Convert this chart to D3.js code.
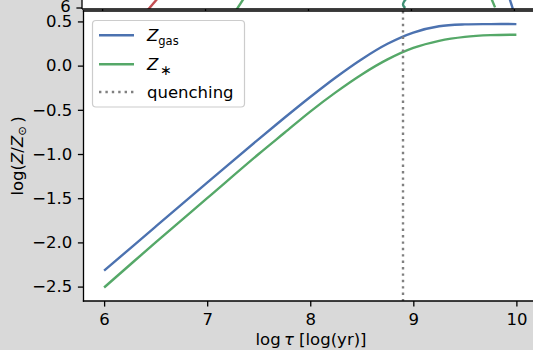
<!DOCTYPE html>
<html>
<head>
<meta charset="utf-8">
<script src="https://cdn.jsdelivr.net/npm/d3@7"></script>
<style>
  html, body { margin: 0; padding: 0; background: #d9d9d9; overflow: hidden; }
  svg { display: block; font-family: "DejaVu Sans", sans-serif; }
</style>
</head>
<body>
<div id="chart"></div>
<script>
// log tau grid and the two metallicity tracks
const logTau = [6.0, 6.5, 7.0, 7.5, 7.75, 8.0, 8.25, 8.5, 8.75, 9.0, 9.25, 9.5, 9.75, 10.0];
const zGas   = [-2.32, -1.821, -1.324, -0.831, -0.590, -0.355, -0.131, 0.073, 0.247, 0.374, 0.445, 0.467, 0.47, 0.47];
const zStar  = [-2.51, -2.00, -1.50, -1.00, -0.76, -0.52, -0.30, -0.10, 0.07, 0.20, 0.28, 0.325, 0.345, 0.35];
const tauQuench = 8.9;

const xTicks = [6, 7, 8, 9, 10];
const yTicks = [0.5, 0.0, -0.5, -1.0, -1.5, -2.0, -2.5];

// bits of the panel above that peek into the picture
const upperTicks = [6];
const upperRed   = [[6.44, 5.94], [6.53, 6.30]];
const upperGreen = [[7.30, 5.94], [7.368, 6.30]];
const upperTeal  = [[8.945, 6.29], [8.926, 6.20], [8.918, 6.12], [8.926, 6.05], [8.94, 6.00]];
const upperGreen2 = [[9.778, 6.30], [9.812, 6.02]];
const upperBlue  = [[9.954, 6.30], [9.985, 5.97]];

class MetalChart {
  constructor(sel) {
    this.width = 533;
    this.height = 350;
    this.svg = d3.select(sel).append("svg")
      .attr("width", this.width)
      .attr("height", this.height);

    // lower (main) axes box
    this.box = { left: 83.5, top: 11, right: 537, bottom: 301 };
    this.x = d3.scaleLinear().domain([5.8, 10.2]).range([this.box.left, this.box.right]);
    this.y = d3.scaleLinear().domain([-2.663, 0.618]).range([this.box.bottom, this.box.top]);

    // upper axes, only its bottom strip is visible
    this.xu = d3.scaleLinear().domain([5.8, 10.2]).range([82, 535]);
    this.yu = d3.scaleLinear().domain([5.967, 6.267]).range([9, 0]);

    this.colors = { gas: "#4C72B0", star: "#55A868", red: "#C44E52", teal: "#3f8f74", quench: "#808080" };
    this.fs = 16.5;
    this.tick = 5.6;
    this.draw();
  }

  draw() {
    this.drawUpper();
    this.drawLower();
    this.drawLegend();
  }

  drawUpper() {
    const g = this.svg.append("g");
    g.append("clipPath").attr("id", "clipUp")
      .append("rect").attr("x", 82).attr("y", -20).attr("width", 460).attr("height", 29);
    g.append("rect").attr("x", 82).attr("y", -20).attr("width", 460).attr("height", 29).attr("fill", "#fff");

    const line = d3.line().x(d => this.xu(d[0])).y(d => this.yu(d[1]));
    const frags = [
      [upperRed, this.colors.red, d3.curveLinear],
      [upperGreen, this.colors.star, d3.curveLinear],
      [upperTeal, this.colors.teal, d3.curveCatmullRom],
      [upperGreen2, this.colors.star, d3.curveLinear],
      [upperBlue, this.colors.gas, d3.curveLinear]
    ];
    const cg = g.append("g").attr("clip-path", "url(#clipUp)");
    frags.forEach(([pts, col, curve]) => {
      cg.append("path").attr("d", line.curve(curve)(pts))
        .attr("fill", "none").attr("stroke", col).attr("stroke-width", 2.4);
    });

    // spines + ticks
    g.append("line").attr("x1", 82).attr("x2", 540).attr("y1", 9).attr("y2", 9)
      .attr("stroke", "#000").attr("stroke-width", 1.3);
    g.append("line").attr("x1", 82).attr("x2", 82).attr("y1", -5).attr("y2", 9)
      .attr("stroke", "#000").attr("stroke-width", 1.3);
    g.selectAll(".xt").data(xTicks).join("line")
      .attr("x1", d => this.xu(d)).attr("x2", d => this.xu(d))
      .attr("y1", 9).attr("y2", 9 + this.tick)
      .attr("stroke", "#000").attr("stroke-width", 1.3);
    upperTicks.forEach(v => {
      g.append("line").attr("x1", 82 - this.tick).attr("x2", 82)
        .attr("y1", this.yu(v)).attr("y2", this.yu(v))
        .attr("stroke", "#000").attr("stroke-width", 1.3);
      g.append("text").attr("x", 82 - 2 * this.tick).attr("y", this.yu(v))
        .attr("dy", "0.22em").attr("text-anchor", "end")
        .attr("font-size", this.fs).attr("fill", "#000").text(v);
    });
  }

  drawLower() {
    const b = this.box;
    const g = this.svg.append("g");
    g.append("rect").attr("x", b.left).attr("y", b.top)
      .attr("width", b.right - b.left).attr("height", b.bottom - b.top).attr("fill", "#fff");

    g.append("clipPath").attr("id", "clipLo")
      .append("rect").attr("x", b.left).attr("y", b.top)
      .attr("width", b.right - b.left).attr("height", b.bottom - b.top);

    const plot = g.append("g").attr("clip-path", "url(#clipLo)");
    const line = d3.line().curve(d3.curveCatmullRom)
      .x((d, i) => this.x(logTau[i])).y(d => this.y(d));

    plot.append("path").attr("d", line(zGas))
      .attr("fill", "none").attr("stroke", this.colors.gas).attr("stroke-width", 2.4);
    plot.append("path").attr("d", line(zStar))
      .attr("fill", "none").attr("stroke", this.colors.star).attr("stroke-width", 2.4);

    plot.append("line")
      .attr("x1", this.x(tauQuench)).attr("x2", this.x(tauQuench))
      .attr("y1", b.top).attr("y2", b.bottom)
      .attr("stroke", this.colors.quench).attr("stroke-width", 2.4)
      .attr("stroke-dasharray", "2.4,4");

    // axes
    const minus = f => d => f(d).replace("-", "\u2212");
    const xAxis = d3.axisBottom(this.x).tickValues(xTicks).tickFormat(d3.format("d"))
      .tickSize(this.tick).tickPadding(this.tick);
    const yAxis = d3.axisLeft(this.y).tickValues(yTicks).tickFormat(minus(d3.format(".1f")))
      .tickSize(this.tick).tickPadding(this.tick);

    const gx = g.append("g").attr("transform", `translate(0,${b.bottom})`).call(xAxis);
    const gy = g.append("g").attr("transform", `translate(${b.left},0)`).call(yAxis);
    [gx, gy].forEach(a => {
      a.select(".domain").remove();
      a.selectAll(".tick line").attr("stroke", "#000").attr("stroke-width", 1.3);
      a.selectAll(".tick text").attr("font-size", this.fs).attr("fill", "#000")
        .attr("font-family", "DejaVu Sans");
    });
    gx.selectAll(".tick text").attr("dy", "0.75em");

    // spines
    const sp = [[b.left, b.top, b.left, b.bottom], [b.left, b.bottom, b.right, b.bottom], [b.left, b.top, b.right, b.top]];
    g.selectAll(".spine").data(sp).join("line")
      .attr("x1", d => d[0]).attr("y1", d => d[1]).attr("x2", d => d[2]).attr("y2", d => d[3])
      .attr("stroke", "#000").attr("stroke-width", 1.3).attr("stroke-linecap", "square");

    // axis labels
    const xl = this.svg.append("text").attr("x", 311).attr("y", 345)
      .attr("text-anchor", "middle").attr("font-size", this.fs).attr("fill", "#000");
    xl.append("tspan").text("log\u2009");
    xl.append("tspan").attr("font-style", "italic").text("\u03c4");
    xl.append("tspan").text(" [log(yr)]");

    const yl = this.svg.append("text")
      .attr("transform", "translate(23,156) rotate(-90)")
      .attr("text-anchor", "middle").attr("font-size", this.fs).attr("fill", "#000");
    yl.append("tspan").text("log(");
    yl.append("tspan").attr("font-style", "italic").text("Z");
    yl.append("tspan").text("/");
    yl.append("tspan").attr("font-style", "italic").text("Z");
    yl.append("tspan").attr("font-size", 11.5).attr("dy", 3).text("\u2299");
    yl.append("tspan").attr("dy", -3).text("\u2009)");
  }

  drawLegend() {
    const lg = this.svg.append("g");
    lg.append("rect").attr("x", 92.5).attr("y", 20.5).attr("width", 152).attr("height", 86.5)
      .attr("rx", 3.5).attr("fill", "#fff").attr("fill-opacity", 0.8)
      .attr("stroke", "#cccccc").attr("stroke-width", 1.2);

    const items = [
      { key: "gas", y: 35.3, col: this.colors.gas, dash: null, sub: "gas" },
      { key: "star", y: 64.3, col: this.colors.star, dash: null, sub: "\u2217" },
      { key: "quench", y: 92, col: this.colors.quench, dash: "2.4,4", sub: null }
    ];
    items.forEach(it => {
      lg.append("line").attr("x1", 99).attr("x2", 134).attr("y1", it.y).attr("y2", it.y)
        .attr("stroke", it.col).attr("stroke-width", 2.4)
        .attr("stroke-dasharray", it.dash);
      const t = lg.append("text").attr("x", 147).attr("font-size", this.fs).attr("fill", "#000");
      if (it.key === "quench") {
        t.attr("y", it.y + 5.5).text("quenching");
      } else {
        t.attr("y", it.y + 5.8);
        t.append("tspan").attr("font-style", "italic").text("Z");
        if (it.key === "gas") {
          t.append("tspan").attr("font-size", 11.5).attr("dy", 3.5).text(it.sub);
        } else {
          t.append("tspan").attr("font-size", 14).attr("dx", 2).attr("dy", 5).text(it.sub);
        }
      }
    });
  }
}

new MetalChart("#chart");
</script>
</body>
</html>
